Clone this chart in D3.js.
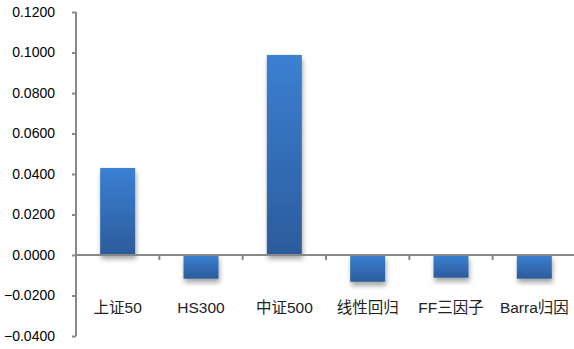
<!DOCTYPE html>
<meta charset="utf-8">
<style>
  body { margin: 0; background: #fff; }
  text { font-family: "Liberation Sans", Arial, "Noto Sans CJK SC", sans-serif; }
  .axis path, .axis line { stroke: #888; }
</style>
<body>
<svg width="574" height="349"></svg>
<script src="https://d3js.org/d3.v7.min.js"></script>
<script>
  // data
  let categories = ["上证50", "HS300", "中证500", "线性回归", "FF三因子", "Barra归因"];
  let values = [0.0430, -0.0117, 0.0988, -0.0132, -0.0112, -0.0117];
  let y_ticks = [-0.04, -0.02, 0, 0.02, 0.04, 0.06, 0.08, 0.10, 0.12];

  var svg = d3.select("svg");
  var plot_left = 76, plot_right = 576, plot_top = 12, plot_bottom = 336;

  var x = d3.scaleBand()
    .domain(categories)
    .range([plot_left, plot_right])
    .paddingInner(0.58)
    .paddingOuter(0.29);

  var y = d3.scaleLinear()
    .domain([-0.04, 0.12])
    .range([plot_bottom, plot_top]);

  var defs = svg.append("defs");
  var grad = defs.append("linearGradient")
    .attr("id", "bar_grad")
    .attr("x1", 0).attr("y1", 0).attr("x2", 0).attr("y2", 1);
  grad.append("stop").attr("offset", "0%").attr("stop-color", "#3b80d2");
  grad.append("stop").attr("offset", "100%").attr("stop-color", "#2c5b9b");

  var shadow = defs.append("filter")
    .attr("id", "shadow")
    .attr("x", "-30%").attr("y", "-30%")
    .attr("width", "160%").attr("height", "160%");
  shadow.append("feDropShadow")
    .attr("dx", 1).attr("dy", 4)
    .attr("stdDeviation", 2.5)
    .attr("flood-color", "#000")
    .attr("flood-opacity", 0.35);

  // y axis
  var y_axis = svg.append("g")
    .attr("class", "axis")
    .attr("transform", "translate(" + plot_left + ",0)")
    .call(d3.axisLeft(y)
      .tickValues(y_ticks)
      .tickSize(4)
      .tickPadding(17)
      .tickFormat(d3.format(".4f")));
  y_axis.select(".domain").attr("stroke-width", 2).attr("d", "M0," + plot_top + "V" + plot_bottom);
  y_axis.selectAll("line").attr("stroke-width", 2);
  y_axis.selectAll("text")
    .attr("fill", "#000")
    .style("font-size", "14px");

  // bars
  svg.append("g")
    .selectAll("rect")
    .data(values)
    .enter().append("rect")
      .attr("x", function(d, i) { return x(categories[i]); })
      .attr("width", x.bandwidth())
      .attr("y", function(d) { return y(Math.max(0, d)); })
      .attr("height", function(d) { return Math.abs(y(d) - y(0)); })
      .attr("fill", "url(#bar_grad)")
      .attr("filter", "url(#shadow)");

  // x axis at zero
  var x_axis = svg.append("g")
    .attr("class", "axis")
    .attr("transform", "translate(0," + y(0) + ")");
  x_axis.append("line")
    .attr("x1", plot_left).attr("x2", plot_right)
    .attr("stroke-width", 2);
  x_axis.selectAll(".tick")
    .data(categories.slice(1))
    .enter().append("line")
      .attr("x1", function(d) { return x(d) - x.step() * x.paddingInner() / 2; })
      .attr("x2", function(d) { return x(d) - x.step() * x.paddingInner() / 2; })
      .attr("y1", 0).attr("y2", 5)
      .attr("stroke-width", 2);

  // category labels
  svg.append("g")
    .selectAll("text")
    .data(categories)
    .enter().append("text")
      .attr("x", function(d) { return x(d) + x.bandwidth() / 2; })
      .attr("y", y(-0.02) + 17)
      .attr("text-anchor", "middle")
      .attr("fill", "#222")
      .style("font-size", "15.5px")
      .text(function(d) { return d; });
</script>
</body>
